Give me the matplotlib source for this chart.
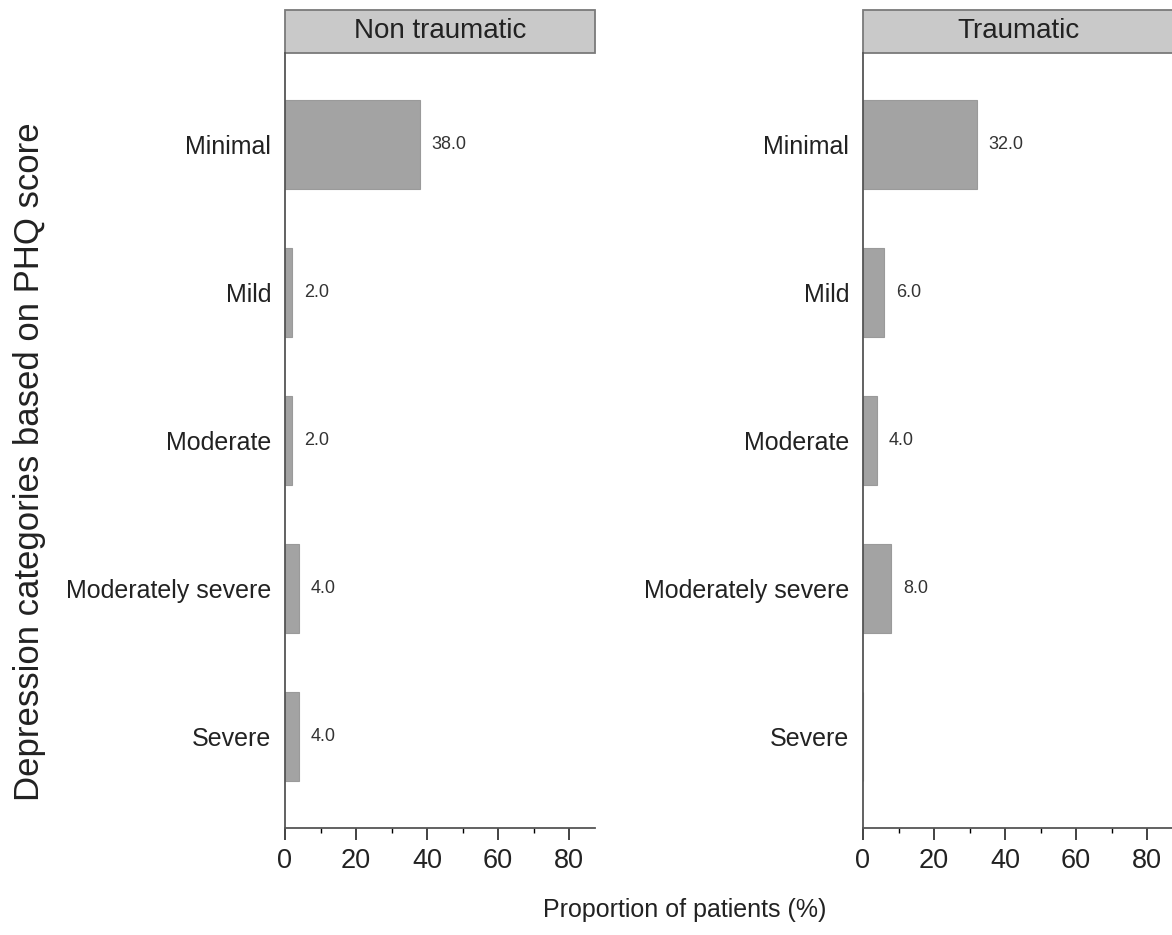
import numpy as np
import matplotlib.pyplot as plt
from matplotlib.patches import Rectangle

plt.rcParams['font.family'] = ['Liberation Sans', 'DejaVu Sans']

categories = ['Minimal', 'Mild', 'Moderate', 'Moderately severe', 'Severe']
panels = ['Non traumatic', 'Traumatic']
non_traumatic = [38.0, 2.0, 2.0, 4.0, 4.0]
traumatic = [32.0, 6.0, 4.0, 8.0, 0.0]
xticks = [0, 20, 40, 60, 80]

bar_color = '#a3a3a3'
W, H = 1172, 935
fig = plt.figure(figsize=(W / 100, H / 100), dpi=100)

ax_left = fig.add_axes([285 / W, 1 - 828 / H, 310 / W, 775 / H])
ax_right = fig.add_axes([863 / W, 1 - 828 / H, 310 / W, 775 / H])

y = np.arange(len(categories))
for ax, title, vals in [(ax_left, panels[0], non_traumatic),
                        (ax_right, panels[1], traumatic)]:
    ax.barh(y, vals, height=0.6, color=bar_color, edgecolor='#9a9a9a', linewidth=0.8)
    for yi, v in zip(y, vals):
        if v > 0:
            ax.text(v + 3.3, yi, f'{v:.1f}', va='center', ha='left',
                    fontsize=13, color='#333333')
    ax.set_ylim(len(categories) - 0.38, -0.62)
    ax.set_xlim(0, 87.3)
    ax.set_yticks(y)
    ax.set_yticklabels(categories, fontsize=18, color='#222222')
    ax.set_xticks(xticks)
    ax.set_xticks([10, 30, 50, 70], minor=True)
    ax.tick_params(axis='x', labelsize=19.5, colors='#222222', length=8.5,
                   width=1.2, pad=6)
    ax.tick_params(axis='x', which='minor', length=3.5, width=1)
    ax.tick_params(axis='y', length=0, pad=10)
    for s in ['top', 'right']:
        ax.spines[s].set_visible(False)
    for s in ['left', 'bottom']:
        ax.spines[s].set_color('#555555')
        ax.spines[s].set_linewidth(1.3)
    # panel header strip
    hh = 43 / 775
    ax.add_patch(Rectangle((0, 1), 1, hh, transform=ax.transAxes, clip_on=False,
                           facecolor='#c9c9c9', edgecolor='#7a7a7a', linewidth=1.3))
    ax.text(0.5, 1 + hh / 2, title, transform=ax.transAxes, ha='center',
            va='center', fontsize=20, color='#222222')

fig.text(685 / W, 1 - 910 / H, 'Proportion of patients (%)', ha='center',
         va='center', fontsize=18, color='#222222')
fig.text(30 / W, 1 - 462 / H, 'Depression categories based on PHQ score',
         rotation=90, ha='center', va='center', fontsize=25, color='#222222')

fig.savefig('out.png', dpi=100, facecolor='white')
